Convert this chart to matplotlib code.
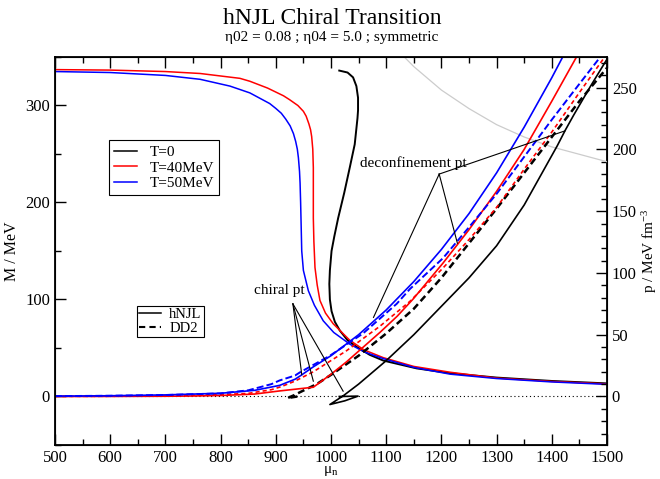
import numpy as np
import matplotlib
matplotlib.use("Agg")
import matplotlib.pyplot as plt
from matplotlib.lines import Line2D

plt.rcParams["font.family"] = ["Liberation Serif", "DejaVu Serif"]
plt.rcParams["mathtext.fontset"] = "custom"
plt.rcParams["mathtext.rm"] = "Liberation Serif"
plt.rcParams["mathtext.default"] = "regular"

# effective mass M(mu_n), left axis
mu_M_T0 = [1015, 1030, 1040, 1046, 1049, 1049, 1048, 1043, 1034, 1024, 1013, 1006, 1001, 998,
           997, 998, 1001, 1007, 1016, 1030, 1047, 1070, 1095, 1155, 1216, 1300, 1400, 1500]
M_T0 = [336, 334, 329, 320, 308, 295, 287, 260, 236, 210, 184, 165, 150, 130,
        116, 100, 88, 77, 68, 58, 51, 43, 37, 29, 24, 19.5, 16, 13.5]

mu_M_T40 = [500, 600, 700, 763, 835, 853, 885, 914, 925, 940, 950, 955, 960, 963, 965, 967,
            968, 968, 969, 971, 975, 980, 990, 1004, 1034, 1060, 1095, 1150, 1216, 1300,
            1400, 1500]
M_T40 = [337, 336.5, 335, 333, 328, 325, 318, 310, 306, 300, 294, 289, 281, 275, 268, 255,
         236, 184, 160, 133, 115, 99, 86, 75, 58, 48, 40, 31, 25, 19,
         15.5, 13]

mu_M_T50 = [500, 600, 700, 763, 817, 853, 889, 900, 910, 918, 926, 932, 936, 939, 941, 943,
            944, 945, 946, 947, 950, 959, 970, 986, 1005, 1034, 1060, 1095, 1150, 1216,
            1300, 1400, 1500]
M_T50 = [335, 334, 331, 327, 320, 313, 302, 297, 292, 286, 279, 271, 263, 255, 246, 232,
         220, 200, 175, 150, 130, 109, 94, 78, 66, 54, 46, 39, 30, 23,
         18.5, 15, 12.5]

# pressure p(mu_n), right axis
mu_p_T0 = [1015, 1049, 1025, 998, 1010, 1022, 1050, 1100, 1150, 1200, 1250, 1300, 1350,
           1385, 1410, 1425, 1440, 1470, 1500]
p_T0 = [0, 0.3, -3.5, -6.5, -3.0, 0.5, 10, 29, 50, 73, 96, 122, 155,
        183, 203, 216, 228, 251, 273]

mu_p_T0_dd2 = [939, 928, 921, 925, 933, 944, 974, 1000, 1050, 1100, 1150, 1200, 1250,
               1300, 1350, 1400, 1450, 1500]
p_T0_dd2 = [0, -0.8, -1.5, -0.5, 1, 3.5, 10, 17.5, 33, 51, 71, 96, 124,
            152, 181, 210, 239, 266]

mu_p_T40 = [500, 600, 700, 750, 800, 862, 907, 968, 1000, 1028, 1089, 1120, 1149, 1203,
            1250, 1300, 1350, 1400, 1445]
p_T40 = [0, 0.05, 0.2, 0.4, 0.8, 2, 4.5, 7.5, 18, 28, 52, 65, 79, 108,
         135, 166, 200, 239, 275]

mu_p_T40_dd2 = [500, 600, 700, 800, 850, 892, 910, 935, 968, 1028, 1089, 1143, 1203, 1250,
                1300, 1350, 1400, 1450, 1493]
p_T40_dd2 = [0.1, 0.2, 0.5, 1.5, 2.5, 5.5, 8, 12.5, 20, 37, 57, 77, 104, 127,
             153, 184, 214, 246, 273]

mu_p_T50 = [500, 600, 700, 800, 862, 907, 935, 947, 968, 1000, 1050, 1100, 1150, 1200,
            1250, 1300, 1350, 1400, 1420]
p_T50 = [0.3, 0.6, 1.3, 2.6, 5, 9, 14, 17.5, 24, 33, 50, 70, 93, 119,
         148, 181, 218, 258, 275]

mu_p_T50_dd2 = [500, 600, 700, 800, 850, 892, 907, 935, 944, 998, 1058, 1119, 1143, 1203,
                1250, 1300, 1350, 1400, 1450, 1490]
p_T50_dd2 = [0.3, 0.6, 1.2, 2.5, 5, 10, 13, 17, 19.6, 33, 51, 75, 87, 112,
             137, 164, 194, 224, 253, 276]

mu_gray = [1130, 1150, 1200, 1250, 1300, 1350, 1400, 1450, 1500]
p_gray = [276, 267, 248, 233, 220, 210, 202, 196, 190]

# annotation anchor points (mu, p)
chiral_txt = (906, 86)
chiral_from = (931, 75)
chiral_pts = [(947, 17.7), (968, 12.4), (1022, 4.3)]
deconf_txt = (1150, 189)
deconf_from = (1196, 180)
deconf_pts = [(1077, 64), (1229, 124), (1424, 215)]

fig = plt.figure(figsize=(6.6, 4.79), dpi=100)
ax = fig.add_axes([0.0833, 0.071, 0.8364, 0.810])
ax2 = ax.twinx()

ax.plot(mu_M_T0, M_T0, color="black", lw=1.4)
ax.plot(mu_M_T40, M_T40, color="red", lw=1.1)
ax.plot(mu_M_T50, M_T50, color="blue", lw=1.1)

ax2.plot(mu_gray, p_gray, color="#cccccc", lw=0.9)
ax2.axhline(0, color="black", lw=0.8, ls=(0, (1, 2.5)))
ax2.plot(mu_p_T0, p_T0, color="black", lw=1.2)
ax2.plot(mu_p_T0_dd2, p_T0_dd2, color="black", lw=1.8, dashes=(2.8, 1.6))
ax2.plot(mu_p_T40, p_T40, color="red", lw=1.2)
ax2.plot(mu_p_T40_dd2, p_T40_dd2, color="red", lw=1.2, dashes=(2.5, 1.8))
ax2.plot(mu_p_T50, p_T50, color="blue", lw=1.2)
ax2.plot(mu_p_T50_dd2, p_T50_dd2, color="blue", lw=1.4, dashes=(3.6, 1.6))

for pt in chiral_pts:
    ax2.plot([chiral_from[0], pt[0]], [chiral_from[1], pt[1]], color="black", lw=0.8)
for pt in deconf_pts:
    ax2.plot([deconf_from[0], pt[0]], [deconf_from[1], pt[1]], color="black", lw=0.8)
ax2.text(*chiral_txt, "chiral pt", fontsize=11, ha="center", va="center")
ax2.text(*deconf_txt, "deconfinement pt", fontsize=11, ha="center", va="center")

ax.set_xlim(500, 1500)
ax.set_ylim(-50, 350)
ax2.set_ylim(-39.25, 274.75)

ax.set_xticks(np.arange(500, 1501, 100))
ax.set_xticks(np.arange(550, 1500, 100), minor=True)
ax.set_yticks([0, 100, 200, 300])
ax.set_yticks([-50, 50, 150, 250, 350], minor=True)
ax2.set_yticks([0, 50, 100, 150, 200, 250])
ax2.set_yticks(np.arange(-30, 271, 10), minor=True)

ax.tick_params(which="both", direction="in", top=True, right=False, labelsize=12, width=1)
ax.tick_params(which="major", length=8)
ax.tick_params(which="minor", length=4)
ax2.tick_params(which="both", direction="in", labelsize=12, width=1)
ax2.tick_params(which="major", length=8)
ax2.tick_params(which="minor", length=4)
for sp in ax.spines.values():
    sp.set_linewidth(1.3)

ax.set_xlabel("μ$_{n}$", fontsize=11, labelpad=-1)
ax.set_ylabel("M / MeV", fontsize=11.5)
ax2.set_ylabel("p / MeV fm$^{-3}$", fontsize=11, labelpad=2)

leg1 = ax.legend([Line2D([], [], color=c, lw=1.1) for c in ("black", "red", "blue")],
                 ["T=0", "T=40MeV", "T=50MeV"],
                 loc="upper left", bbox_to_anchor=(0.098, 0.786), borderaxespad=0,
                 fontsize=11, labelspacing=0.12, handlelength=1.5, handletextpad=0.8,
                 fancybox=False, framealpha=1, edgecolor="black", borderpad=0.35)
leg1.get_frame().set_linewidth(0.8)
ax.add_artist(leg1)
leg2 = ax.legend([Line2D([], [], color="black", lw=1.1),
                  Line2D([], [], color="black", lw=1.5, dashes=(3, 2))],
                 ["hNJL", "DD2"],
                 loc="upper left", bbox_to_anchor=(0.149, 0.358), borderaxespad=0,
                 fontsize=10.5, labelspacing=0.0, handlelength=1.5, handletextpad=0.55,
                 fancybox=False, framealpha=1, edgecolor="black", borderpad=0.15)
leg2.get_frame().set_linewidth(0.8)

fig.text(0.503, 0.962, "hNJL Chiral Transition", fontsize=17, ha="center", va="center")
fig.text(0.503, 0.921, "η02 = 0.08 ; η04 = 5.0 ; symmetric", fontsize=11, ha="center", va="center")

fig.savefig("out.png", dpi=100)
